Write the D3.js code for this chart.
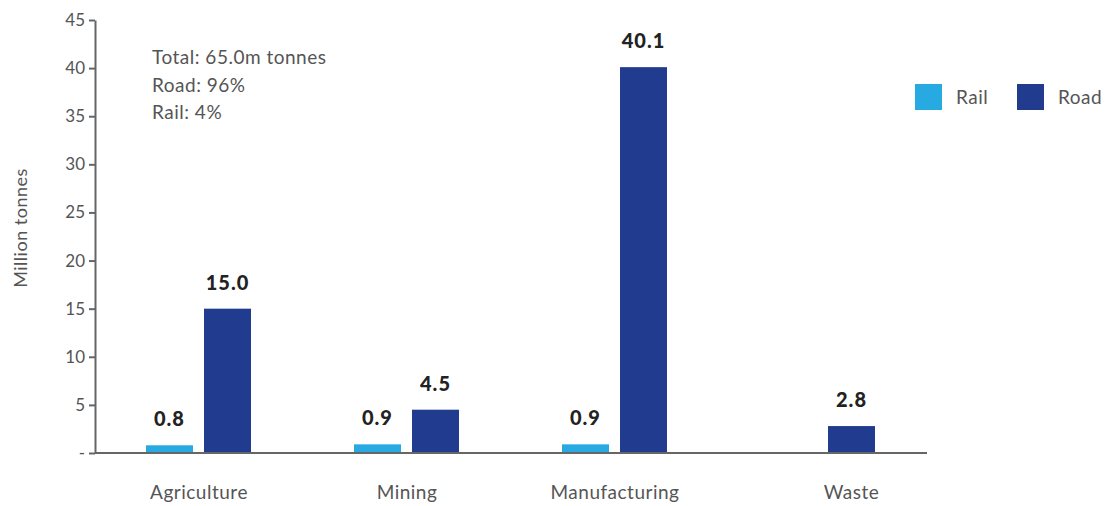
<!DOCTYPE html>
<html>
<head>
<meta charset="utf-8">
<script src="https://cdn.jsdelivr.net/npm/d3@7"></script>
<style>
  body { margin: 0; background: #fff; }
  text { font-family: Lato, "Open Sans", sans-serif; }
</style>
</head>
<body>
<script>
const WIDTH = 1107, HEIGHT = 506;
const margin = {left: 95, right: 180, top: 20, bottom: 53};

const categories = ["Agriculture", "Mining", "Manufacturing", "Waste"];
const series = ["Rail", "Road"];
const rail = [0.8, 0.9, 0.9, null];
const road = [15.0, 4.5, 40.1, 2.8];
const yTicks = [0, 5, 10, 15, 20, 25, 30, 35, 40, 45];
const notes = ["Total: 65.0m tonnes", "Road: 96%", "Rail: 4%"];
const colors = {Rail: "#27a9e1", Road: "#213b8f"};

const svg = d3.select("body").append("svg")
    .attr("width", WIDTH)
    .attr("height", HEIGHT);

const x = d3.scaleBand().domain(categories)
    .range([margin.left, 927]).paddingInner(0).paddingOuter(0);
const xs = d3.scaleBand().domain(series)
    .range([x.bandwidth() / 2 - 53, x.bandwidth() / 2 + 52]).paddingInner(0.19);
const y = d3.scaleLinear().domain([0, 45]).range([453, margin.top]);

// y axis
const yAxis = svg.append("g")
    .attr("transform", `translate(${margin.left},0)`)
    .call(d3.axisLeft(y).tickValues(yTicks).tickSize(6).tickSizeOuter(0)
        .tickFormat(d => d === 0 ? "-" : d));
yAxis.select(".domain").attr("stroke", "#666").attr("stroke-width", 2);
yAxis.selectAll(".tick line").attr("stroke", "#666").attr("stroke-width", 2);
yAxis.selectAll(".tick text")
    .attr("x", -10)
    .attr("fill", "#555")
    .style("font-size", "17px");

// bars
const rows = categories.map((c, i) => ({cat: c, Rail: rail[i], Road: road[i]}));
const groups = svg.append("g").selectAll("g")
    .data(rows).join("g")
    .attr("transform", d => `translate(${x(d.cat)},0)`);

groups.selectAll("rect")
    .data(d => series.filter(s => d[s] != null).map(s => ({s, v: d[s]})))
    .join("rect")
    .attr("x", d => xs(d.s))
    .attr("width", xs.bandwidth())
    .attr("y", d => y(d.v))
    .attr("height", d => y(0) - y(d.v))
    .attr("fill", d => colors[d.s]);

groups.selectAll("text.val")
    .data(d => series.filter(s => d[s] != null).map(s => ({s, v: d[s]})))
    .join("text")
    .attr("class", "val")
    .attr("x", d => xs(d.s) + xs.bandwidth() / 2)
    .attr("y", d => y(d.v) - 19)
    .attr("text-anchor", "middle")
    .attr("fill", "#222")
    .style("font-size", "20px")
    .style("font-weight", "900")
    .style("letter-spacing", "1px")
    .text(d => d.v.toFixed(1));

// x axis line
svg.append("line")
    .attr("x1", margin.left).attr("x2", 927)
    .attr("y1", y(0)).attr("y2", y(0))
    .attr("stroke", "#666").attr("stroke-width", 2);

// category labels (centred on the visible bars)
svg.append("g").selectAll("text")
    .data(rows).join("text")
    .attr("x", d => {
        const vis = series.filter(s => d[s] != null);
        const a = xs(vis[0]), b = xs(vis[vis.length - 1]) + xs.bandwidth();
        return x(d.cat) + (vis.length > 1 ? x.bandwidth() / 2 : (a + b) / 2);
    })
    .attr("y", 499)
    .attr("text-anchor", "middle")
    .attr("fill", "#555")
    .style("font-size", "19px")
    .style("letter-spacing", "0.5px")
    .text(d => d.cat);

// y axis title
svg.append("text")
    .attr("transform", "translate(27,228) rotate(-90)")
    .attr("text-anchor", "middle")
    .attr("fill", "#555")
    .style("font-size", "18px")
    .style("letter-spacing", "0.5px")
    .text("Million tonnes");

// notes
svg.append("g").selectAll("text")
    .data(notes).join("text")
    .attr("x", 152)
    .attr("y", (d, i) => 64 + i * 27.5)
    .attr("fill", "#555")
    .style("font-size", "19px")
    .style("letter-spacing", "0.5px")
    .text(d => d);

// legend
const lx = [915, 1017];
const legend = svg.append("g").selectAll("g")
    .data(series).join("g")
    .attr("transform", (d, i) => `translate(${lx[i]},84)`);
legend.append("rect")
    .attr("width", 27).attr("height", 26)
    .attr("fill", d => colors[d]);
legend.append("text")
    .attr("x", 41).attr("y", 20)
    .attr("fill", "#555")
    .style("font-size", "19px")
    .style("letter-spacing", "0.5px")
    .text(d => d);
</script>
</body>
</html>
